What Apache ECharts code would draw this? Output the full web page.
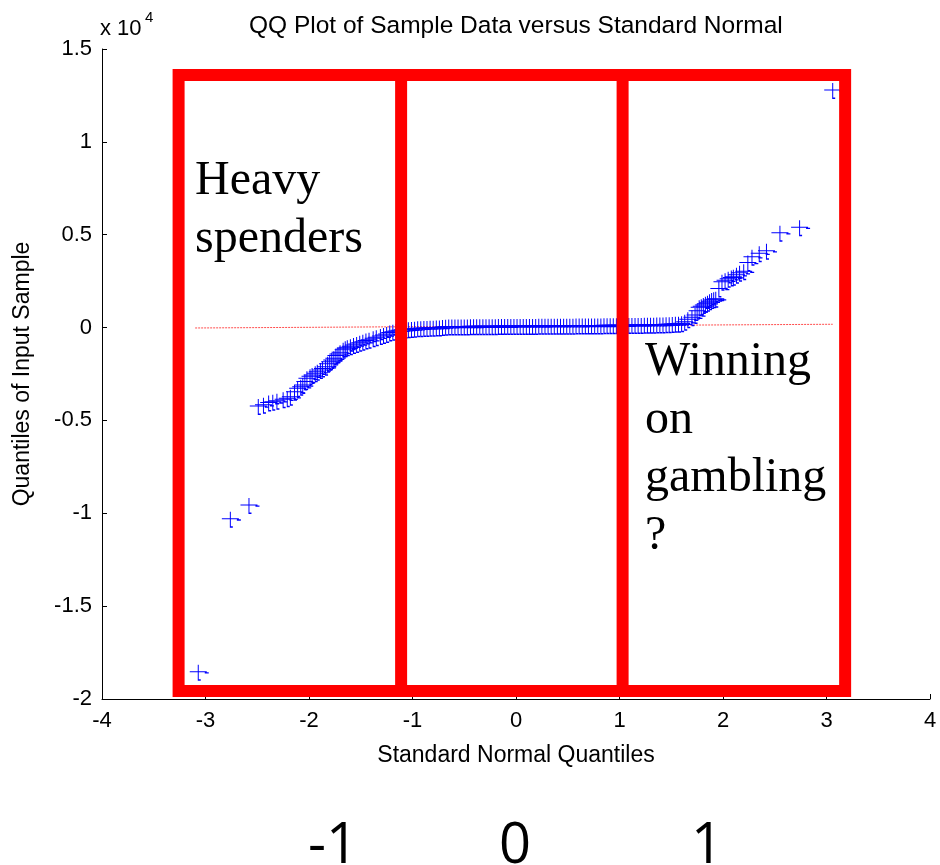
<!DOCTYPE html>
<html>
<head>
<meta charset="utf-8">
<script src="https://cdn.jsdelivr.net/npm/echarts@6/dist/echarts.min.js"></script>
<style>
	html, body { margin: 0; padding: 0; background: #fff; }
	#chart { width: 940px; height: 865px; }
</style>
</head>
<body>
<div id="chart"></div>
<script>
// Sorted sample vs. standard normal quantiles: [quantile, value]
const qqLeftTail = [
	[ -3.07, -18530 ], [ -2.76, -10300 ], [ -2.58, -9550 ], [ -2.49, -4220 ], [ -2.44, -4150 ],
	[ -2.39, -4040 ], [ -2.35, -4000 ], [ -2.31, -3940 ], [ -2.25, -3860 ], [ -2.21, -3800 ],
	[ -2.18, -3720 ], [ -2.14, -3450 ], [ -2.11, -3270 ], [ -2.08, -3180 ], [ -2.06, -3090 ],
	[ -2.04, -2900 ], [ -2.02, -2730 ], [ -1.99, -2620 ], [ -1.97, -2550 ], [ -1.94, -2460 ],
	[ -1.92, -2380 ], [ -1.89, -2280 ], [ -1.87, -2200 ], [ -1.84, -2110 ], [ -1.82, -1950 ],
	[ -1.80, -1840 ], [ -1.78, -1750 ], [ -1.76, -1650 ], [ -1.74, -1500 ], [ -1.72, -1420 ],
	[ -1.70, -1330 ], [ -1.67, -1200 ], [ -1.65, -1120 ], [ -1.63, -1060 ], [ -1.60, -1000 ],
	[ -1.57, -940 ], [ -1.54, -880 ], [ -1.51, -820 ], [ -1.48, -760 ], [ -1.45, -700 ],
	[ -1.42, -650 ], [ -1.38, -580 ], [ -1.35, -520 ], [ -1.31, -460 ], [ -1.28, -400 ],
	[ -1.25, -340 ], [ -1.22, -270 ], [ -1.19, -220 ], [ -1.16, -180 ], [ -1.13, -140 ],
	[ -1.10, -120 ], [ -1.07, -100 ], [ -1.04, -90 ], [ -1.01, -80 ], [ -0.98, -60 ],
	[ -0.95, -40 ], [ -0.92, -30 ], [ -0.89, -20 ], [ -0.86, -20 ], [ -0.83, -10 ],
	[ -0.80, -10 ], [ -0.77, 0 ], [ -0.74, 10 ], [ -0.71, 30 ]
];
const qqBody = [
	[ -0.68, 50 ], [ -0.65, 52 ], [ -0.62, 55 ], [ -0.59, 55 ], [ -0.56, 58 ],
	[ -0.53, 60 ], [ -0.50, 60 ], [ -0.47, 62 ], [ -0.44, 65 ], [ -0.41, 65 ],
	[ -0.38, 68 ], [ -0.35, 70 ], [ -0.32, 70 ], [ -0.29, 72 ], [ -0.26, 75 ],
	[ -0.23, 75 ], [ -0.20, 76 ], [ -0.17, 78 ], [ -0.14, 80 ], [ -0.11, 80 ],
	[ -0.08, 80 ], [ -0.05, 82 ], [ -0.02, 84 ], [ 0.01, 85 ], [ 0.04, 85 ],
	[ 0.07, 86 ], [ 0.10, 88 ], [ 0.13, 90 ], [ 0.16, 90 ], [ 0.19, 90 ],
	[ 0.22, 92 ], [ 0.25, 94 ], [ 0.28, 95 ], [ 0.31, 95 ], [ 0.34, 96 ],
	[ 0.37, 98 ], [ 0.40, 100 ], [ 0.43, 100 ], [ 0.46, 100 ], [ 0.49, 100 ],
	[ 0.52, 102 ], [ 0.55, 104 ], [ 0.58, 105 ], [ 0.61, 105 ], [ 0.64, 108 ],
	[ 0.67, 110 ], [ 0.70, 110 ], [ 0.73, 112 ], [ 0.76, 115 ], [ 0.79, 115 ],
	[ 0.82, 118 ], [ 0.85, 120 ], [ 0.88, 120 ], [ 0.91, 122 ], [ 0.94, 125 ],
	[ 0.97, 128 ], [ 1.00, 130 ], [ 1.03, 130 ], [ 1.06, 132 ], [ 1.09, 135 ],
	[ 1.12, 138 ], [ 1.15, 140 ], [ 1.18, 140 ], [ 1.21, 145 ], [ 1.24, 148 ],
	[ 1.27, 150 ], [ 1.30, 152 ], [ 1.33, 155 ], [ 1.36, 160 ], [ 1.39, 165 ],
	[ 1.42, 170 ], [ 1.45, 175 ], [ 1.48, 180 ], [ 1.51, 190 ], [ 1.54, 200 ],
	[ 1.57, 210 ]
];
const qqRightTail = [
	[ 1.60, 230 ], [ 1.63, 318 ], [ 1.66, 447 ], [ 1.70, 555 ], [ 1.73, 679 ],
	[ 1.75, 900 ], [ 1.77, 1093 ], [ 1.79, 1150 ], [ 1.81, 1217 ], [ 1.83, 1280 ],
	[ 1.85, 1341 ], [ 1.87, 1420 ], [ 1.89, 1486 ], [ 1.91, 1520 ], [ 1.93, 1556 ],
	[ 1.96, 2100 ], [ 1.99, 2472 ], [ 2.02, 2550 ], [ 2.05, 2633 ], [ 2.08, 2700 ],
	[ 2.10, 2741 ], [ 2.13, 2850 ], [ 2.16, 2956 ], [ 2.20, 3032 ], [ 2.24, 3500 ],
	[ 2.28, 3818 ], [ 2.35, 4000 ], [ 2.42, 4141 ], [ 2.55, 5111 ], [ 2.74, 5401 ],
	[ 3.06, 12795 ]
];

// Reference line through the quartiles
const refLine = [ [ -3.10, -22 ], [ 3.06, 178 ] ];

// Red annotation boxes (data coordinates)
const boxOuter = [ [ -3.26, 13600 ], [ 3.18, 13600 ], [ 3.18, -19570 ], [ -3.26, -19570 ], [ -3.26, 13600 ] ];
const boxLeftDivider = [ [ -1.11, 13600 ], [ -1.11, -19570 ] ];
const boxRightDivider = [ [ 1.03, 13600 ], [ 1.03, -19570 ] ];

const xTicks = { min: -4, max: 4, interval: 1 };
const yTicks = { min: -20000, max: 15000, interval: 5000 };

const bottomLabels = [ '-1', '0', '1' ];
const bottomLabelX = [ 333, 515, 707 ];

// '+' marker with the small stroke artefacts seen in the original
const plusPath = 'path://M0,6.5H17V7.5H0Z M8,0H9V15H8Z M15,7.5H19V8.8H15Z M8,14.5H11V16H8Z';

const axisFont = { fontFamily: 'Liberation Sans', fontSize: 22, color: '#000' };

const chart = echarts.init( document.getElementById( 'chart' ), null, { renderer: 'canvas' } );

const boxLine = ( data, cap ) => ( {
	type: 'line',
	data,
	z: 5,
	symbol: 'none',
	silent: true,
	lineStyle: { color: '#ff0000', width: 12, cap, join: 'miter' }
} );

chart.setOption( {
	animation: false,
	backgroundColor: '#fff',
	title: {
		text: 'QQ Plot of Sample Data versus Standard Normal',
		left: 244,
		top: 9,
		textStyle: { fontFamily: 'Liberation Sans', fontSize: 24.5, fontWeight: 'normal', color: '#000' }
	},
	grid: { left: 102, right: 10, top: 49, bottom: 166 },
	xAxis: {
		type: 'value',
		min: xTicks.min,
		max: xTicks.max,
		interval: xTicks.interval,
		name: 'Standard Normal Quantiles',
		nameLocation: 'middle',
		nameGap: 45,
		nameTextStyle: { fontFamily: 'Liberation Sans', fontSize: 23, color: '#000' },
		axisLine: { onZero: false, lineStyle: { color: '#000', width: 1 } },
		axisTick: { inside: true, length: 5, lineStyle: { color: '#000' } },
		axisLabel: Object.assign( { margin: 11, showMinLabel: true, showMaxLabel: true }, axisFont ),
		splitLine: { show: false }
	},
	yAxis: {
		type: 'value',
		min: yTicks.min,
		max: yTicks.max,
		interval: yTicks.interval,
		name: 'Quantiles of Input Sample',
		nameLocation: 'middle',
		nameGap: 68,
		nameTextStyle: { fontFamily: 'Liberation Sans', fontSize: 23, color: '#000' },
		axisLine: { onZero: false, lineStyle: { color: '#000', width: 1 } },
		axisTick: { inside: true, length: 5, lineStyle: { color: '#000' } },
		axisLabel: Object.assign( {
			margin: 10,
			showMinLabel: true,
			showMaxLabel: true,
			formatter: ( v ) => String( v / 10000 )
		}, axisFont ),
		splitLine: { show: false }
	},
	series: [
		{
			type: 'line',
			data: refLine,
			z: 1,
			symbol: 'none',
			silent: true,
			lineStyle: { color: '#ff0000', width: 1, type: [ 2, 1 ], opacity: 0.7 }
		},
		{
			type: 'scatter',
			data: qqLeftTail.concat( qqBody, qqRightTail ),
			z: 2,
			symbol: plusPath,
			symbolSize: [ 19, 16 ],
			symbolOffset: [ 1, 1 ],
			itemStyle: { color: '#0000ff', opacity: 1 }
		},
		boxLine( boxOuter, 'square' ),
		boxLine( boxLeftDivider, 'butt' ),
		boxLine( boxRightDivider, 'butt' )
	],
	graphic: [
		{
			type: 'text', left: 100, top: 18, z: 10,
			style: { text: 'x 10', font: '22px "Liberation Sans"', fill: '#000' }
		},
		{
			type: 'text', left: 145, top: 10, z: 10,
			style: { text: '4', font: '15px "Liberation Sans"', fill: '#000' }
		},
		{
			type: 'text', left: 195, top: 152, z: 10,
			style: { text: 'Heavy\nspenders', font: '48px "Liberation Serif"', lineHeight: 58, fill: '#000' }
		},
		{
			type: 'text', left: 645, top: 333, z: 10,
			style: { text: 'Winning\non\ngambling\n?', font: '48px "Liberation Serif"', lineHeight: 58, fill: '#000' }
		}
	].concat( bottomLabels.map( ( t, i ) => ( {
		type: 'text',
		x: bottomLabelX[ i ],
		y: 847,
		z: 10,
		style: {
			text: t,
			font: '56px "Open Sans"',
			fill: '#000',
			textAlign: 'center',
			textVerticalAlign: 'middle'
		}
	} ) ) )
} );
</script>
</body>
</html>
